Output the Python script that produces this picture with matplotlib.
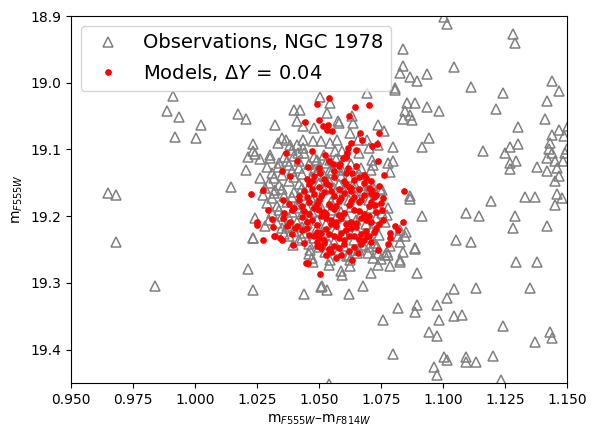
import matplotlib
matplotlib.use("Agg")
import matplotlib.pyplot as plt

# Observations (gray open triangles): color, magnitude
obs_x = [
    0.9910, 0.9888, 0.9937, 1.0025, 0.9918, 1.0005, 1.0173, 1.0207, 1.0324, 0.9650, 0.9683,
    1.0234, 1.0243, 1.0215, 1.0304, 1.0207, 1.0146, 1.0400, 1.0425, 1.0503, 1.0544, 1.0534,
    1.0410, 1.0434, 1.0481, 1.0578,
    1.0350, 1.0367, 1.0336, 1.0383, 1.0437, 1.0477, 1.0508, 1.0544, 1.0571, 1.0410, 1.0437,
    1.0390, 1.0417, 1.0235, 1.0262, 1.0302, 1.0289, 1.0336, 1.0370, 1.0490, 1.0544, 1.0497, 1.0544,
    0.9683, 0.9840, 1.0215, 1.0234, 1.0234, 1.0243, 1.0283, 1.0441, 1.0474, 1.0508,
    1.1005, 1.1016, 1.1284, 1.1292, 1.0840, 1.1044, 1.0840, 1.0827, 1.0866, 1.0895, 1.0935,
    1.0808, 1.1113, 1.1242, 1.1441, 1.1468, 1.1421, 1.1214, 1.0855, 1.0888, 1.0935, 1.0984,
    1.0848, 1.0867, 1.0840, 1.0876, 1.1413, 1.1304, 1.1468, 1.1438, 1.1489, 1.1431, 1.1427,
    1.1441, 1.1418, 1.1492, 1.1452, 1.1379, 1.1420, 1.1461, 1.1466, 1.1453, 1.1484, 1.0945,
    1.0917, 1.1161, 1.1251, 1.1272, 1.1304, 1.1272, 1.1293, 1.1272, 1.0800, 1.0779, 1.0800,
    1.0788, 1.0712, 1.0719, 1.0746, 1.0868,
    1.0692, 1.0806, 1.0581, 1.0638, 1.0632, 1.0737, 1.0763, 1.0625, 1.0658, 1.0692, 1.0739,
    1.0565, 1.0591, 1.0591, 1.0577,
    1.0262, 1.0282, 1.0275, 1.0323, 1.0235, 1.0396, 1.0464, 1.0430, 1.0544, 1.0524, 1.0473,
    1.0605, 1.0753, 1.0739, 1.0780, 1.0753, 1.0773, 1.0766, 1.0827, 1.0820, 1.0847, 1.0827,
    1.0732, 1.0786, 1.0773, 1.0739, 1.0699, 1.0679, 1.0887, 1.0612, 1.0625, 1.0652, 1.0827, 1.0766,
    1.0867, 1.0917, 1.1194, 1.1332, 1.1372, 1.1460, 1.1481, 1.1452, 1.1093, 1.1146, 1.1292,
    1.1284, 1.1421, 1.1052, 1.1114, 1.0888, 1.0849, 1.0840, 1.0827, 1.0786, 1.0739, 1.0719,
    1.0749, 1.0780, 1.0710, 1.0896, 1.0677, 1.0622, 1.0534, 1.0513, 1.0592, 1.0589, 1.0542,
    1.0624, 1.1293, 1.1379, 1.1134, 1.1046, 1.1351, 1.1016, 1.0976, 1.0895, 1.0888, 1.0820,
    1.1046, 1.1078, 1.0984, 1.0759, 1.1242, 1.1430, 1.1441, 1.1372, 1.0945, 1.0976, 1.0800,
    1.1004, 1.1016, 1.1093, 1.1093, 1.1134, 1.1202, 1.0965, 1.0976, 1.1235, 1.0542, 1.1505, 1.1500,
    # dense core
    1.034, 1.038, 1.042, 1.046, 1.050, 1.031, 1.035, 1.039, 1.043, 1.047, 1.055, 1.059,
    1.030, 1.034, 1.038, 1.042, 1.046, 1.050, 1.054, 1.058, 1.062, 1.066,
    1.032, 1.036, 1.040, 1.044, 1.048, 1.052, 1.060, 1.068,
    1.029, 1.033, 1.037, 1.041, 1.045, 1.049, 1.057, 1.065,
    1.031, 1.035, 1.039, 1.043, 1.047, 1.055, 1.063, 1.071,
    1.033, 1.037, 1.041, 1.045, 1.053, 1.061, 1.069,
    1.036, 1.040, 1.044, 1.052, 1.060, 1.068, 1.074,
    1.042, 1.048, 1.056, 1.064, 1.072,
    1.050, 1.058, 1.046, 1.066, 1.062,
    1.040, 1.044, 1.048, 1.052, 1.057, 1.061, 1.066, 1.070,
    1.036, 1.042, 1.048, 1.053, 1.057, 1.063, 1.067, 1.071,
    1.032, 1.040, 1.052, 1.064, 1.070,
    1.035, 1.043, 1.056, 1.064, 1.072,
    1.031, 1.039, 1.047, 1.055, 1.062, 1.070,
    1.034, 1.041, 1.051, 1.059, 1.067,
    1.030, 1.038, 1.049, 1.057, 1.065, 1.073,
    1.035, 1.043, 1.049, 1.057, 1.065, 1.071,
    1.038, 1.046, 1.054, 1.060, 1.070,
]
obs_y = [
    19.020, 19.043, 19.051, 19.063, 19.082, 19.083, 19.047, 19.054, 19.064, 19.165, 19.169,
    19.092, 19.107, 19.112, 19.109, 19.131, 19.156, 19.041, 19.041, 19.022, 19.031, 19.045,
    19.058, 19.065, 19.068, 19.058,
    19.083, 19.086, 19.091, 19.093, 19.086, 19.088, 19.087, 19.091, 19.086, 19.093, 19.098,
    19.101, 19.106, 19.103, 19.115, 19.113, 19.126, 19.126, 19.118, 19.116, 19.116, 19.131, 19.131,
    19.239, 19.305, 19.279, 19.311, 19.233, 19.203, 19.214, 19.316, 19.269, 19.306,
    18.901, 18.912, 18.927, 18.941, 18.950, 18.976, 18.975, 18.985, 18.991, 18.997, 18.987,
    19.008, 19.007, 19.016, 18.998, 19.013, 19.027, 19.040, 19.031, 19.031, 19.036, 19.042,
    19.043, 19.048, 19.054, 19.056, 19.054, 19.066, 19.071, 19.078, 19.080, 19.090, 19.100,
    19.106, 19.113, 19.106, 19.117, 19.127, 19.132, 19.128, 19.140, 19.148, 19.118, 19.083,
    19.097, 19.103, 19.105, 19.096, 19.092, 19.120, 19.118, 19.130, 19.096, 19.120, 19.118,
    19.134, 19.116, 19.123, 19.160, 19.170,
    19.016, 19.011, 19.061, 19.061, 19.050, 19.063, 19.073, 19.076, 19.086, 19.086, 19.093,
    19.103, 19.103, 19.131, 19.126,
    19.143, 19.158, 19.168, 19.161, 19.232, 19.243, 19.250, 19.233, 19.265, 19.253, 19.263,
    19.156, 19.161, 19.188, 19.188, 19.195, 19.198, 19.208, 19.220, 19.230, 19.229, 19.238,
    19.245, 19.245, 19.253, 19.255, 19.255, 19.243, 19.247, 19.260, 19.265, 19.255, 19.265, 19.258,
    19.174, 19.200, 19.177, 19.171, 19.171, 19.167, 19.173, 19.183, 19.195, 19.199, 19.200,
    19.218, 19.215, 19.236, 19.239, 19.249, 19.223, 19.254, 19.268, 19.275, 19.273, 19.263,
    19.264, 19.258, 19.285, 19.285, 19.304, 19.316, 19.311, 19.305, 19.288, 19.282, 19.273,
    19.275, 19.268, 19.268, 19.307, 19.309, 19.307, 19.322, 19.333, 19.333, 19.344, 19.337,
    19.350, 19.348, 19.356, 19.356, 19.364, 19.373, 19.382, 19.388, 19.373, 19.380, 19.407,
    19.411, 19.415, 19.411, 19.419, 19.418, 19.409, 19.426, 19.438, 19.446, 19.451, 19.065, 19.100,
    # dense core
    19.120, 19.124, 19.118, 19.122, 19.126, 19.135, 19.139, 19.133, 19.137, 19.141, 19.135, 19.140,
    19.150, 19.154, 19.148, 19.152, 19.156, 19.150, 19.147, 19.152, 19.141, 19.137,
    19.166, 19.170, 19.164, 19.168, 19.172, 19.160, 19.162, 19.163,
    19.180, 19.184, 19.178, 19.182, 19.186, 19.180, 19.174, 19.170,
    19.195, 19.199, 19.193, 19.197, 19.194, 19.190, 19.186, 19.188,
    19.210, 19.214, 19.208, 19.210, 19.212, 19.200, 19.212,
    19.226, 19.222, 19.225, 19.224, 19.226, 19.226, 19.228,
    19.236, 19.232, 19.238, 19.236, 19.240,
    19.246, 19.250, 19.256, 19.250, 19.258,
    19.110, 19.106, 19.112, 19.108, 19.115, 19.110, 19.105, 19.098,
    19.112, 19.128, 19.131, 19.121, 19.127, 19.122, 19.128, 19.131,
    19.143, 19.142, 19.140, 19.150, 19.155,
    19.160, 19.158, 19.158, 19.158, 19.160,
    19.173, 19.172, 19.176, 19.178, 19.175, 19.176,
    19.190, 19.188, 19.186, 19.193, 19.196,
    19.205, 19.203, 19.205, 19.203, 19.206, 19.202,
    19.218, 19.216, 19.218, 19.220, 19.220, 19.220,
    19.230, 19.242, 19.242, 19.244, 19.246,
]

# Models (red dots): color, magnitude
mod_x = [
    1.0227, 1.0276, 1.0319, 1.0344, 1.0351, 1.0396, 1.0456, 1.0504, 1.0296, 1.0315, 1.0250, 1.0312,
    1.0703, 1.0646, 1.0540, 1.0620, 1.0743, 1.0665, 1.0673, 1.0715, 1.0735, 1.0629, 1.0618,
    1.0649, 1.0739, 1.0763, 1.0844, 1.0524,
    1.0493, 1.0501, 1.0445, 1.0515, 1.0537, 1.0531, 1.0551, 1.0367, 1.0470, 1.0410, 1.0555,
    1.0352, 1.0457, 1.0504, 1.0383,
    1.0612, 1.0598, 1.0585, 1.0608, 1.0618, 1.0634, 1.0661, 1.0683,
    1.0273, 1.0249, 1.0323, 1.0356, 1.0390, 1.0353, 1.0383, 1.0403, 1.0370, 1.0447, 1.0490, 1.0510,
    1.0715, 1.0759, 1.0726, 1.0753, 1.0806, 1.0840, 1.0820, 1.0786, 1.0786, 1.0777, 1.0692,
    1.0658, 1.0632, 1.0739,
    # dense core
    1.048, 1.052, 1.056, 1.060, 1.064, 1.068, 1.071,
    1.046, 1.050, 1.054, 1.058, 1.062, 1.066, 1.070, 1.074,
    1.044, 1.048, 1.052, 1.056, 1.060, 1.064, 1.068, 1.072,
    1.042, 1.046, 1.050, 1.054, 1.058, 1.062, 1.066, 1.070, 1.075,
    1.040, 1.044, 1.048, 1.052, 1.056, 1.060, 1.064, 1.068, 1.073,
    1.043, 1.047, 1.051, 1.055, 1.059, 1.063, 1.067, 1.071, 1.076,
    1.041, 1.045, 1.049, 1.053, 1.057, 1.061, 1.065, 1.069, 1.073,
    1.046, 1.050, 1.054, 1.058, 1.062, 1.066, 1.070,
    1.052, 1.056, 1.060, 1.064, 1.055, 1.059, 1.049, 1.044,
    1.050, 1.056, 1.061, 1.047, 1.063, 1.057, 1.053, 1.061, 1.049, 1.067, 1.071, 1.038,
    1.036, 1.039, 1.042, 1.058, 1.054, 1.065,
    1.045, 1.053, 1.061, 1.069,
    1.047, 1.055, 1.063, 1.071,
    1.045, 1.051, 1.059, 1.067, 1.073,
    1.043, 1.049, 1.055, 1.063, 1.071,
    1.046, 1.050, 1.058, 1.066, 1.070,
    1.045, 1.053, 1.057, 1.065, 1.069, 1.074,
    1.043, 1.051, 1.055, 1.059, 1.063, 1.067, 1.072,
    1.048, 1.052, 1.056, 1.060, 1.064, 1.068,
    1.050, 1.054, 1.058, 1.062, 1.057, 1.053,
]
mod_y = [
    19.167, 19.236, 19.230, 19.232, 19.236, 19.243, 19.270, 19.287, 19.191, 19.216, 19.209, 19.204,
    19.034, 19.037, 19.023, 19.050, 19.076, 19.076, 19.086, 19.095, 19.092, 19.091, 19.098,
    19.101, 19.117, 19.138, 19.162, 19.109,
    19.032, 19.056, 19.059, 19.065, 19.063, 19.071, 19.073, 19.106, 19.102, 19.117, 19.122,
    19.133, 19.127, 19.135, 19.140,
    19.106, 19.113, 19.122, 19.111, 19.128, 19.135, 19.141, 19.138,
    19.161, 19.213, 19.229, 19.175, 19.190, 19.203, 19.208, 19.218, 19.215, 19.270, 19.245, 19.248,
    19.161, 19.173, 19.183, 19.190, 19.214, 19.208, 19.220, 19.225, 19.233, 19.241, 19.230,
    19.255, 19.265, 19.250,
    # dense core
    19.140, 19.145, 19.142, 19.148, 19.146, 19.150, 19.147,
    19.152, 19.156, 19.153, 19.159, 19.156, 19.160, 19.158, 19.155,
    19.163, 19.167, 19.164, 19.170, 19.166, 19.171, 19.168, 19.172,
    19.176, 19.179, 19.175, 19.181, 19.177, 19.183, 19.179, 19.184, 19.180,
    19.188, 19.192, 19.187, 19.193, 19.189, 19.195, 19.190, 19.196, 19.193,
    19.201, 19.205, 19.200, 19.206, 19.202, 19.208, 19.203, 19.209, 19.205,
    19.214, 19.218, 19.213, 19.219, 19.215, 19.221, 19.216, 19.222, 19.218,
    19.228, 19.232, 19.227, 19.233, 19.229, 19.234, 19.230,
    19.240, 19.245, 19.241, 19.246, 19.254, 19.258, 19.238, 19.240,
    19.128, 19.132, 19.136, 19.147, 19.163, 19.185, 19.197, 19.211, 19.224, 19.241, 19.238, 19.181,
    19.195, 19.226, 19.170, 19.125, 19.117, 19.125,
    19.144, 19.150, 19.152, 19.143,
    19.160, 19.163, 19.158, 19.165,
    19.171, 19.170, 19.173, 19.175, 19.168,
    19.184, 19.182, 19.186, 19.177, 19.178,
    19.196, 19.190, 19.198, 19.192, 19.200,
    19.208, 19.203, 19.209, 19.210, 19.205, 19.212,
    19.221, 19.225, 19.212, 19.225, 19.218, 19.226, 19.224,
    19.230, 19.235, 19.230, 19.236, 19.230, 19.236,
    19.244, 19.249, 19.248, 19.252, 19.262, 19.258,
]

x_ticks = [0.950, 0.975, 1.000, 1.025, 1.050, 1.075, 1.100, 1.125, 1.150]
y_ticks = [18.9, 19.0, 19.1, 19.2, 19.3, 19.4]

fig = plt.figure(figsize=(5.96, 4.38), dpi=100)
ax = fig.add_axes([71/596, 1 - 383/438, (567-71)/596, (383-16)/438])

ax.plot(obs_x, obs_y, linestyle='none', marker='^', markersize=7,
        markerfacecolor='none', markeredgecolor='gray', markeredgewidth=1.1,
        label='Observations, NGC 1978')
ax.plot(mod_x, mod_y, linestyle='none', marker='o', markersize=3.8,
        color='red', label=r'Models, $\Delta Y$ = 0.04')

ax.set_xlim(0.95, 1.15)
ax.set_ylim(19.45, 18.9)
ax.set_xticks(x_ticks)
ax.set_xticklabels([f"{v:.3f}" for v in x_ticks])
ax.set_yticks(y_ticks)
ax.set_yticklabels([f"{v:.1f}" for v in y_ticks])
ax.set_xlabel(r'm$_{F555W}$–m$_{F814W}$')
ax.set_ylabel(r'm$_{F555W}$')
ax.legend(loc='upper left', fontsize=14)

fig.savefig('out.png', dpi=100)
